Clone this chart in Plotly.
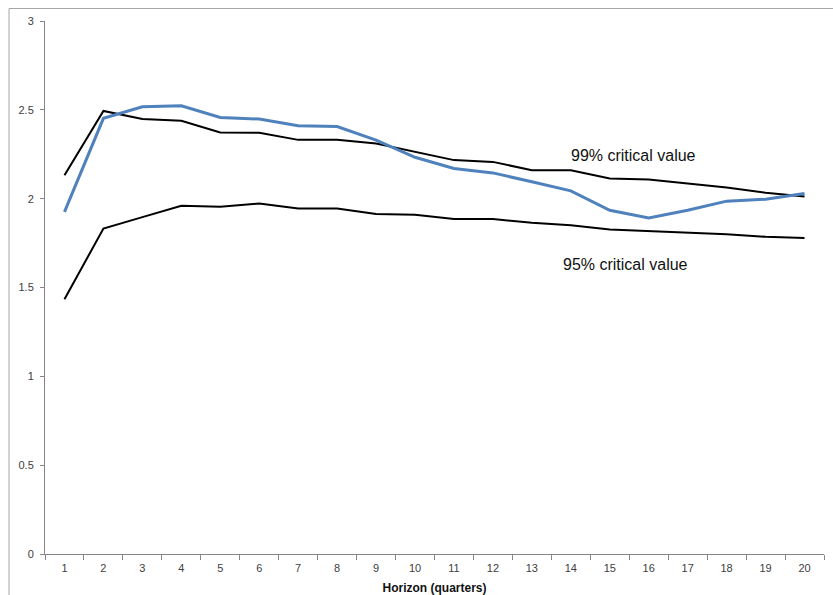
import plotly.graph_objects as go

horizon = list(range(1, 21))
statistic = [1.926, 2.452, 2.517, 2.523, 2.457, 2.448, 2.410, 2.406, 2.330, 2.233,
             2.170, 2.145, 2.095, 2.044, 1.935, 1.892, 1.935, 1.986, 1.997, 2.029]
crit99 = [2.132, 2.494, 2.449, 2.438, 2.373, 2.371, 2.331, 2.331, 2.311, 2.265,
          2.217, 2.207, 2.160, 2.160, 2.114, 2.108, 2.086, 2.063, 2.033, 2.012]
crit95 = [1.434, 1.832, 1.896, 1.960, 1.954, 1.973, 1.945, 1.945, 1.914, 1.910,
          1.885, 1.885, 1.864, 1.851, 1.827, 1.817, 1.808, 1.800, 1.785, 1.779]
y_ticks = [0, 0.5, 1, 1.5, 2, 2.5, 3]
y_tick_text = ["0", "0.5", "1", "1.5", "2", "2.5", "3"]

fig = go.Figure()
fig.add_trace(go.Scatter(x=horizon, y=crit99, mode="lines",
                         line=dict(color="#000000", width=2), name="99%"))
fig.add_trace(go.Scatter(x=horizon, y=crit95, mode="lines",
                         line=dict(color="#000000", width=2), name="95%"))
fig.add_trace(go.Scatter(x=horizon, y=statistic, mode="lines",
                         line=dict(color="#4F81BD", width=3), name="stat"))

fig.add_annotation(x=15.61, y=2.245, xref="x", yref="y", text="99% critical value",
                   showarrow=False, font=dict(family="Liberation Sans, Arial", size=16, color="#111111"))
fig.add_annotation(x=15.4, y=1.631, xref="x", yref="y", text="95% critical value",
                   showarrow=False, font=dict(family="Liberation Sans, Arial", size=16, color="#111111"))

# outer chart border
fig.add_shape(type="rect", xref="paper", yref="paper",
              x0=(9 - 45) / 779, x1=(840 - 45) / 779,
              y0=(554 - 600) / 533, y1=1 + (21 - 8.5) / 533,
              line=dict(color="#A6A6A6", width=1), layer="below")

tick_font = dict(family="Liberation Sans, Arial", size=11, color="#404040")
fig.update_layout(
    width=833, height=595,
    margin=dict(l=45, r=9, t=21, b=41),
    paper_bgcolor="white", plot_bgcolor="white",
    showlegend=False,
    xaxis=dict(range=[0.5, 20.5], tickvals=horizon, ticktext=[str(h) for h in horizon],
               ticks="", showgrid=False, zeroline=False, showline=True,
               linecolor="#868686", linewidth=1, tickfont=tick_font,
               ticklabelstandoff=4, automargin=False,
               minor=dict(tickvals=[h - 0.5 for h in horizon] + [20.5], ticks="outside",
                          ticklen=5, tickcolor="#868686", showgrid=False),
               title=dict(text="<b>Horizon (quarters)</b>", standoff=10,
                          font=dict(family="Liberation Sans, Arial", size=12, color="#111111"))),
    yaxis=dict(range=[0, 3], tickvals=y_ticks, ticktext=y_tick_text,
               ticks="outside", ticklen=4, tickcolor="#868686",
               ticklabelstandoff=4, automargin=False,
               showgrid=False, zeroline=False, showline=True,
               linecolor="#868686", linewidth=1, tickfont=tick_font),
)

fig.write_html("out.html")
